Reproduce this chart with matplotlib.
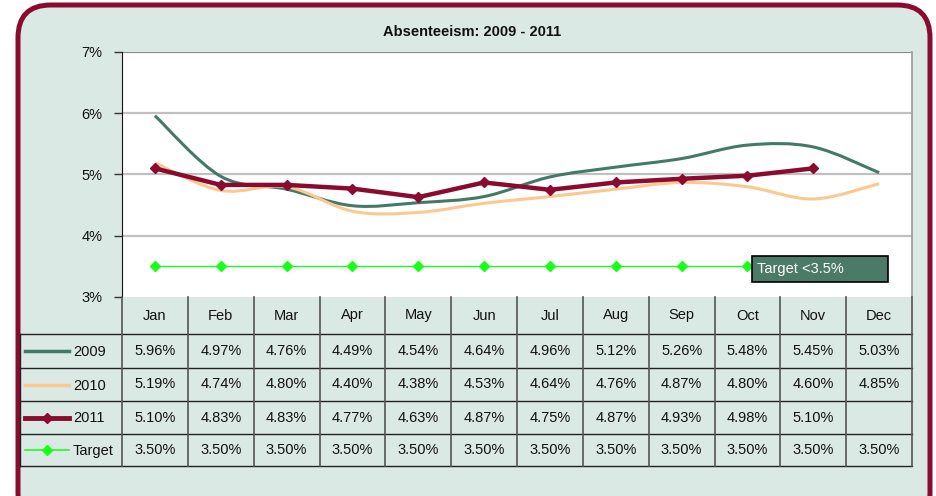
import matplotlib.pyplot as plt
from matplotlib.path import Path
from matplotlib.patches import PathPatch, FancyBboxPatch, Rectangle

plt.rcParams['font.family'] = ['Liberation Sans', 'DejaVu Sans']

months = ["Jan", "Feb", "Mar", "Apr", "May", "Jun", "Jul", "Aug", "Sep", "Oct", "Nov", "Dec"]
y2009 = [5.96, 4.97, 4.76, 4.49, 4.54, 4.64, 4.96, 5.12, 5.26, 5.48, 5.45, 5.03]
y2010 = [5.19, 4.74, 4.80, 4.40, 4.38, 4.53, 4.64, 4.76, 4.87, 4.80, 4.60, 4.85]
y2011 = [5.10, 4.83, 4.83, 4.77, 4.63, 4.87, 4.75, 4.87, 4.93, 4.98, 5.10]
target = [3.50] * 12
series_names = ["2009", "2010", "2011", "Target"]
series_vals = [y2009, y2010, y2011, target]

c09 = "#437a66"
c10 = "#fdc890"
c11 = "#8b0a30"
ctg = "#19ff19"
bg = "#dbe9e4"

W, H = 936, 496


def px(x0, y0, x1, y1):
    # pixel box (top-left origin) -> figure fraction rect
    return [x0 / W, 1 - y1 / H, (x1 - x0) / W, (y1 - y0) / H]


def smooth(xs, ys):
    # catmull-rom style bezier, like Excel's smoothed lines
    n = len(xs)
    verts = [(xs[0], ys[0])]
    codes = [Path.MOVETO]
    for i in range(n - 1):
        a = max(i - 1, 0)
        d = min(i + 2, n - 1)
        c1 = (xs[i] + (xs[i + 1] - xs[a]) / 6, ys[i] + (ys[i + 1] - ys[a]) / 6)
        c2 = (xs[i + 1] - (xs[d] - xs[i]) / 6, ys[i + 1] - (ys[d] - ys[i]) / 6)
        verts += [c1, c2, (xs[i + 1], ys[i + 1])]
        codes += [Path.CURVE4] * 3
    return Path(verts, codes)


fig = plt.figure(figsize=(W / 100, H / 100), dpi=100)
fig.patch.set_facecolor("white")

# rounded frame
frame = FancyBboxPatch((18 / W, -30 / H), (930 - 18) / W, (H + 30 - 5) / H,
                       boxstyle="round,pad=0,rounding_size=0.035",
                       transform=fig.transFigure, fc=bg, ec=c11, lw=3.6,
                       mutation_aspect=W / H, zorder=-5)
fig.patches.append(frame)

fig.text(472 / W, 1 - 32 / H, "Absenteeism: 2009 - 2011", ha="center", va="center",
         fontsize=10.5, fontweight="bold", color="#111111")

ax = fig.add_axes(px(122, 52, 912, 297))
ax.set_facecolor("white")
ax.set_xlim(-0.5, 11.5)
ax.set_ylim(3, 7)
ax.set_yticks([3, 4, 5, 6, 7])
ax.set_yticklabels(["3%", "4%", "5%", "6%", "7%"], fontsize=10.5, color="#111111")
ax.set_xticks([])
for s in ["top", "bottom"]:
    ax.spines[s].set_visible(False)
ax.spines["right"].set_color("#a0a0a0")
ax.spines["right"].set_linewidth(1.3)
ax.spines["left"].set_color("#111111")
ax.tick_params(axis="y", direction="out", length=6, width=1, pad=8, color="#333333")
for g in [4, 5, 6]:
    ax.axhline(g, color="#c0c0c0", lw=1.6, zorder=1)
ax.axhline(7, color="#8a8a8a", lw=1.6, zorder=1)

xs = list(range(12))
ax.add_patch(PathPatch(smooth(xs, y2009), fc="none", ec=c09, lw=2.2, zorder=3))
ax.add_patch(PathPatch(smooth(xs, y2010), fc="none", ec=c10, lw=2.2, zorder=3))
ax.plot(range(len(y2011)), y2011, color=c11, lw=3.2, marker="D", ms=5.5, zorder=4)
ax.plot(xs, target, color=ctg, lw=1, marker="D", ms=5, zorder=4)

ax.add_patch(Rectangle((9.07, 3.245), 2.07, 0.424, fc="#4b7a68", ec="black", lw=1.2,
                       zorder=6, clip_on=False))
ax.text(9.15, 3.46, "Target <3.5%", color="white", fontsize=10.5, va="center",
        ha="left", zorder=7)

# data table below the chart, same month scale
tax = fig.add_axes(px(20, 297, 912, 466))
tax.set_xlim(-2.05, 11.5)
tax.set_ylim(466, 297)
tax.axis("off")
rows = [297, 334, 368, 401, 434, 466]
xl = -2.05
for r in rows[1:]:
    tax.plot([xl, 11.5], [r, r], color="#222222", lw=1, clip_on=False)
tax.plot([xl, xl], [rows[1], rows[-1]], color="#222222", lw=1, clip_on=False)
for k in range(13):
    tax.plot([k - 0.5, k - 0.5], [rows[0], rows[-1]], color="#555555", lw=1.2, clip_on=False)
for k, m in enumerate(months):
    tax.text(k, (rows[0] + rows[1]) / 2, m, ha="center", va="center", fontsize=10.5,
             color="#111111")

glyph_lw = [2.5, 2.5, 3.5, 1.2]
glyph_mk = [None, None, "D", "D"]
glyph_col = [c09, c10, c11, ctg]
for j, (name, vals) in enumerate(zip(series_names, series_vals)):
    yc = (rows[j + 1] + rows[j + 2]) / 2
    tax.plot([-1.974, -1.306], [yc, yc], color=glyph_col[j], lw=glyph_lw[j])
    if glyph_mk[j]:
        tax.plot([-1.64], [yc], marker="D", ms=5.5, color=glyph_col[j], ls="none")
    tax.text(-1.245, yc + 1, name, ha="left", va="center", fontsize=10.5, color="#111111")
    for k, v in enumerate(vals):
        tax.text(k, yc, f"{v:.2f}%", ha="center", va="center", fontsize=10.5, color="#111111")

fig.savefig("out.png", dpi=100, facecolor=fig.get_facecolor())
